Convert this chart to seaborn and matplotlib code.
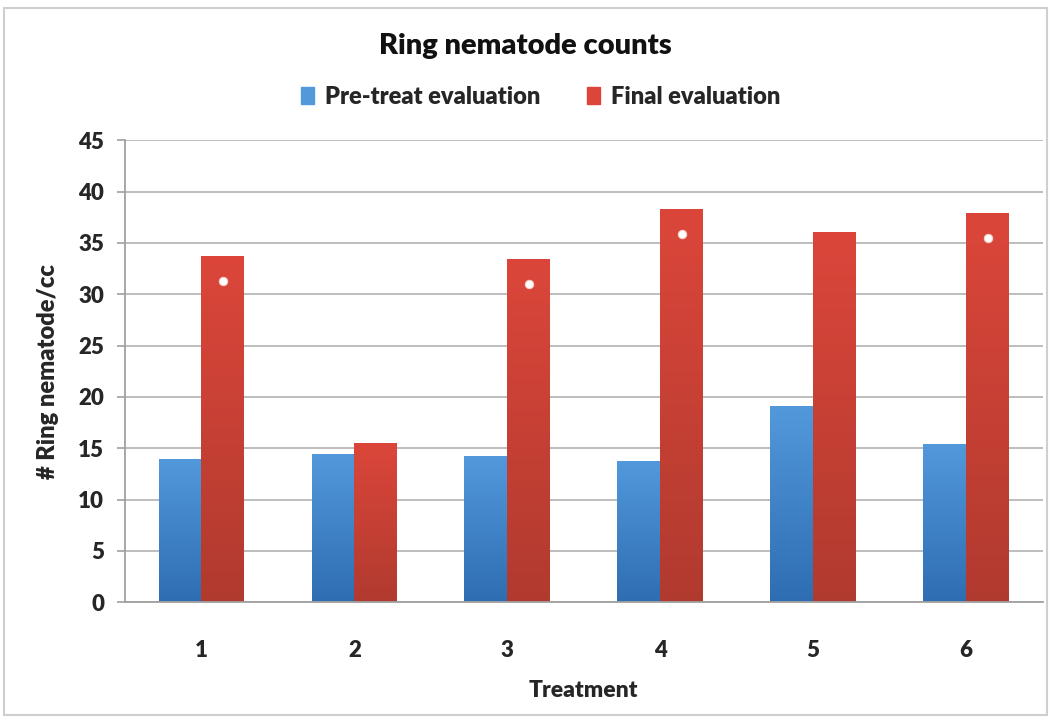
import numpy as np
import pandas as pd
import matplotlib
matplotlib.use("Agg")
import matplotlib.pyplot as plt
import seaborn as sns
from matplotlib.patches import Rectangle
from matplotlib.colors import LinearSegmentedColormap

# data
treatments = ["1", "2", "3", "4", "5", "6"]
pre_treat = [14.0, 14.4, 14.2, 13.8, 19.1, 15.4]
final_eval = [33.7, 15.5, 33.4, 38.3, 36.1, 37.9]
significant = [True, False, True, True, False, True]   # white dot on final bar
series_names = ["Pre-treat evaluation", "Final evaluation"]

df = pd.DataFrame({
    "Treatment": treatments * 2,
    "Count": pre_treat + final_eval,
    "Series": [series_names[0]] * 6 + [series_names[1]] * 6,
})

sns.set_theme(style="white")
plt.rcParams["font.family"] = ["Lato", "DejaVu Sans"]

# excel-like gradients (top light -> bottom dark)
grads = {
    series_names[0]: ("#5299dc", "#2f6db2"),
    series_names[1]: ("#dc463a", "#b13a2f"),
}
palette = {k: v[0] for k, v in grads.items()}

fig = plt.figure(figsize=(10.5, 7.23), dpi=100)
ax = fig.add_axes([0.119, 0.167, 0.874, 0.639])

sns.barplot(data=df, x="Treatment", y="Count", hue="Series", palette=palette,
            width=0.56, gap=0, ax=ax, legend=False, saturation=1)

# replace flat fill with vertical gradient
grad = np.linspace(0, 1, 256).reshape(-1, 1)
for cont, name in zip(ax.containers, series_names):
    cmap = LinearSegmentedColormap.from_list(name, [grads[name][1], grads[name][0]])
    for bar in cont:
        x0, w, h = bar.get_x(), bar.get_width(), bar.get_height()
        bar.set_facecolor("none")
        bar.set_edgecolor("none")
        im = ax.imshow(grad, cmap=cmap, aspect="auto", origin="lower",
                       extent=[x0, x0 + w, 0, h], zorder=2)
        im.set_clip_path(bar)

# significance dots on final bars
for bar, val, sig in zip(ax.containers[1], final_eval, significant):
    if sig:
        ax.plot(bar.get_x() + bar.get_width() / 2, val - 2.4, "o", ms=6,
                color="white", mec="#f3d0c8", mew=0.8, zorder=4)

ax.set_xlim(-0.5, 5.5)
ax.set_ylim(0, 45)
ax.set_yticks(range(0, 46, 5))
ax.yaxis.grid(True, color="#b8b8b8", lw=1.3)
ax.set_axisbelow(True)
for s in ["top", "right"]:
    ax.spines[s].set_visible(False)
for s in ["left", "bottom"]:
    ax.spines[s].set_color("#a0a0a0")
    ax.spines[s].set_linewidth(1.3)

ax.set_xticks(np.arange(-0.5, 6, 1), minor=True)
ax.tick_params(axis="x", which="major", length=0, pad=27, labelsize=16)
ax.tick_params(axis="x", which="minor", length=6, color="#a0a0a0", width=1.2, direction="out")
ax.tick_params(axis="y", length=6, color="#a0a0a0", width=1.2, direction="out",
               labelsize=16, pad=9, left=True)
for lab in ax.get_xticklabels() + ax.get_yticklabels():
    lab.set_fontweight("heavy")

ax.set_xlabel("Treatment", fontsize=16.5, fontweight="heavy", labelpad=14)
ax.set_ylabel("# Ring nematode/cc", fontsize=17, fontweight="heavy", labelpad=14)

fig.text(0.5, 0.937, "Ring nematode counts", ha="center", va="center",
         fontsize=21, fontweight="heavy", color="#111111")

handles = [Rectangle((0, 0), 1, 1, color=grads[n][0]) for n in series_names]
fig.legend(handles, series_names, loc="center", bbox_to_anchor=(0.515, 0.866), ncol=2,
           frameon=False, handlelength=0.55, handleheight=0.7, handletextpad=0.45,
           columnspacing=2.0, prop={"size": 17, "weight": "heavy"})

# chart frame
fig.patches.append(Rectangle((4 / 1050, 1 - 715 / 723), 1043 / 1050, 707 / 723,
                             transform=fig.transFigure, fill=False,
                             edgecolor="#cfcfcf", lw=1.5))

fig.savefig("out.png", dpi=100, facecolor="white")
